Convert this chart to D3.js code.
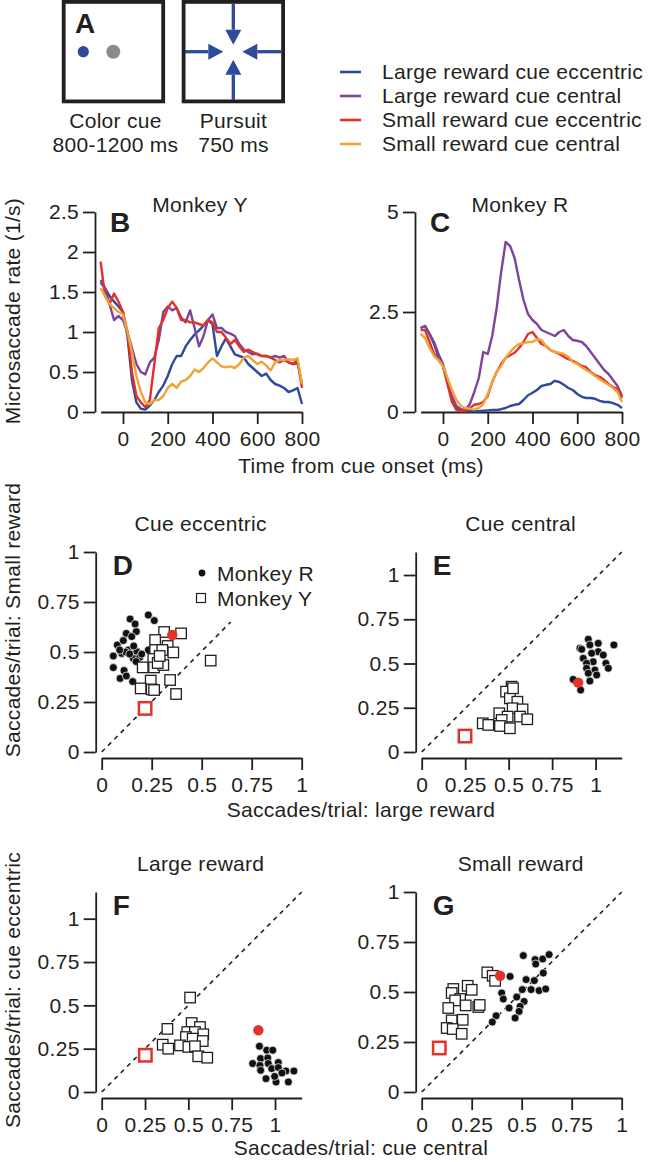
<!DOCTYPE html>
<html><head><meta charset="utf-8">
<script src="https://cdn.jsdelivr.net/npm/d3@7"></script>
<style>
body{margin:0;background:#fff;}
text{font-family:"Liberation Sans",Arial,Helvetica,sans-serif;fill:#231f20;}
</style></head><body>
<svg id="fig" width="650" height="1162"></svg>
<script>
// ---------------- DATA ----------------
const timeMs = [-100,-80,-60,-40,-20,0,20,40,60,80,100,120,140,160,180,200,220,240,260,280,300,320,340,360,380,400,420,440,460,480,500,520,540,560,580,600,620,640,660,680,700,720,740,760,780,800];

// Monkey Y (panel B)
const yLargeEcc = [1.62,1.55,1.45,1.38,1.32,1.25,0.95,0.4,0.12,0.04,0.03,0.08,0.15,0.25,0.33,0.45,0.6,0.7,0.7,0.82,0.9,0.97,1.02,1.08,1.15,1.1,0.7,0.82,0.92,0.82,0.72,0.7,0.68,0.6,0.55,0.5,0.45,0.48,0.4,0.35,0.33,0.3,0.25,0.27,0.3,0.1];
const yLargeCen = [1.65,1.55,1.35,1.15,1.2,1.15,1.0,0.8,0.6,0.5,0.47,0.62,0.68,0.9,1.25,1.32,1.27,1.3,1.18,1.12,1.27,1.05,0.82,0.95,1.15,1.22,1.05,1.05,1.0,0.98,0.95,0.85,0.78,0.75,0.72,0.73,0.7,0.7,0.68,0.7,0.68,0.7,0.62,0.6,0.62,0.35];
const ySmallEcc = [1.88,1.45,1.35,1.48,1.38,1.25,1.0,0.5,0.2,0.12,0.06,0.15,0.6,1.05,1.15,1.3,1.38,1.3,1.15,1.15,1.12,1.12,1.1,1.08,1.15,1.12,1.0,1.0,0.93,0.85,0.9,0.82,0.75,0.78,0.75,0.72,0.7,0.7,0.68,0.65,0.62,0.65,0.62,0.6,0.65,0.3];
const ySmallCen = [1.55,1.45,1.35,1.3,1.25,1.22,1.0,0.75,0.45,0.25,0.12,0.1,0.15,0.15,0.2,0.3,0.35,0.3,0.38,0.4,0.45,0.53,0.5,0.55,0.62,0.67,0.62,0.57,0.56,0.57,0.55,0.6,0.68,0.7,0.65,0.6,0.63,0.58,0.52,0.62,0.65,0.65,0.66,0.65,0.67,0.35];

// Monkey R (panel C)
const rLargeEcc = [2.1,2.15,1.95,1.7,1.35,1.15,0.75,0.35,0.1,0.03,0.02,0.02,0.02,0.02,0.03,0.04,0.05,0.05,0.07,0.1,0.15,0.18,0.2,0.3,0.42,0.48,0.55,0.65,0.68,0.7,0.78,0.75,0.68,0.6,0.55,0.45,0.38,0.35,0.35,0.33,0.28,0.25,0.25,0.22,0.18,0.1];
const rLargeCen = [2.1,2.15,1.95,1.75,1.45,1.2,0.8,0.4,0.15,0.07,0.05,0.2,0.5,0.85,1.5,1.45,1.9,2.6,3.5,4.25,4.15,3.85,3.3,2.8,2.45,2.3,2.2,2.05,2.0,1.95,1.9,2.0,2.05,1.9,1.8,1.78,1.75,1.65,1.5,1.35,1.2,1.05,0.95,0.8,0.65,0.4];
const rSmallEcc = [2.05,2.05,1.75,1.45,1.3,1.15,0.7,0.25,0.05,0.02,0.03,0.1,0.18,0.2,0.25,0.4,0.75,1.0,1.2,1.35,1.42,1.48,1.6,1.75,1.95,2.0,1.85,1.7,1.65,1.55,1.5,1.45,1.38,1.32,1.28,1.22,1.15,1.12,1.0,0.92,0.88,0.8,0.7,0.62,0.58,0.35];
const rSmallCen = [1.95,1.85,1.6,1.4,1.3,1.15,0.85,0.55,0.3,0.15,0.1,0.08,0.06,0.1,0.2,0.45,0.75,1.0,1.15,1.35,1.5,1.62,1.7,1.72,1.75,1.75,1.82,1.8,1.65,1.55,1.5,1.48,1.45,1.38,1.25,1.2,1.12,1.05,0.98,0.9,0.82,0.75,0.68,0.6,0.5,0.25];

const seriesNames = ["Large reward cue eccentric","Large reward cue central","Small reward cue eccentric","Small reward cue central"];
const seriesColors = ["#2d4a9b","#7d449c","#e0312a","#f0a336"];

const rateTicksY = [0,0.5,1,1.5,2,2.5];
const rateTicksR = [0,2.5,5];
const timeTicks = [0,200,400,600,800];
const fracTicks = [0,0.25,0.5,0.75,1];

// Panel D: cue eccentric, x = large reward, y = small reward
const dMonkeyR = [[0.142,0.665],[0.233,0.685],[0.263,0.657],[0.167,0.64],[0.123,0.593],[0.173,0.602],[0.15,0.577],[0.078,0.535],[0.108,0.557],[0.058,0.48],[0.1,0.493],[0.133,0.51],[0.175,0.502],[0.233,0.51],[0.158,0.468],[0.19,0.473],[0.172,0.452],[0.058,0.422],[0.112,0.407],[0.092,0.368],[0.123,0.38],[0.155,0.352],[0.12,0.5],[0.14,0.49],[0.2,0.49],[0.09,0.51],[0.16,0.53]];
const dMonkeyY = [[0.312,0.6],[0.397,0.593],[0.267,0.56],[0.33,0.53],[0.267,0.51],[0.303,0.51],[0.358,0.498],[0.258,0.465],[0.205,0.423],[0.262,0.423],[0.308,0.435],[0.28,0.445],[0.545,0.457],[0.245,0.357],[0.342,0.36],[0.195,0.318],[0.25,0.313],[0.262,0.31],[0.372,0.29],[0.29,0.48]];
const dExampleR = [0.353,0.585];
const dExampleY = [0.217,0.218];

// Panel E: cue central, x = large reward, y = small reward
const eMonkeyR = [[0.958,0.637],[1.015,0.614],[1.105,0.605],[0.91,0.586],[0.967,0.605],[1.015,0.567],[0.977,0.558],[0.929,0.529],[1.044,0.548],[0.986,0.51],[0.948,0.501],[1.059,0.501],[1.073,0.473],[0.948,0.473],[0.996,0.463],[0.958,0.445],[1.006,0.435],[0.967,0.401],[0.871,0.41],[0.914,0.35],[0.92,0.58]];
const eMonkeyY = [[0.517,0.369],[0.485,0.341],[0.507,0.303],[0.55,0.284],[0.523,0.247],[0.58,0.241],[0.446,0.219],[0.494,0.2],[0.565,0.2],[0.607,0.185],[0.46,0.181],[0.351,0.162],[0.383,0.153],[0.45,0.147],[0.507,0.134],[0.525,0.36]];
const eExampleR = [0.9,0.392];
const eExampleY = [0.249,0.09];

// Panel F: large reward, x = cue central, y = cue eccentric
const fMonkeyY = [[0.51,0.545],[0.379,0.364],[0.519,0.398],[0.567,0.375],[0.494,0.346],[0.538,0.346],[0.586,0.333],[0.486,0.317],[0.525,0.308],[0.583,0.294],[0.352,0.273],[0.452,0.269],[0.5,0.26],[0.538,0.264],[0.384,0.25],[0.557,0.206],[0.609,0.198]];
const fMonkeyR = [[0.91,0.264],[0.952,0.241],[0.987,0.241],[0.917,0.193],[0.958,0.196],[0.871,0.164],[0.913,0.154],[0.961,0.164],[1.019,0.17],[0.917,0.125],[0.981,0.135],[1.019,0.141],[1.063,0.121],[1.109,0.121],[0.948,0.077],[1.006,0.058],[1.077,0.058],[0.998,0.09],[1.04,0.11]];
const fExampleR = [0.904,0.356];
const fExampleY = [0.252,0.212];

// Panel G: small reward, x = cue central, y = cue eccentric
const gMonkeyR = [[0.508,0.682],[0.567,0.662],[0.605,0.665],[0.637,0.687],[0.442,0.578],[0.608,0.595],[0.522,0.562],[0.563,0.557],[0.503,0.512],[0.547,0.512],[0.587,0.507],[0.62,0.515],[0.4,0.495],[0.408,0.465],[0.475,0.475],[0.512,0.453],[0.437,0.42],[0.492,0.428],[0.487,0.403],[0.372,0.381],[0.467,0.37],[0.353,0.35],[0.57,0.64]];
const gMonkeyY = [[0.328,0.598],[0.355,0.581],[0.367,0.556],[0.23,0.531],[0.25,0.511],[0.158,0.515],[0.15,0.495],[0.192,0.465],[0.167,0.458],[0.22,0.433],[0.133,0.42],[0.283,0.425],[0.29,0.435],[0.15,0.358],[0.205,0.361],[0.125,0.32],[0.155,0.315],[0.2,0.291]];
const gExampleR = [0.392,0.581];
const gExampleY = [0.088,0.22];

// ---------------- DRAW ----------------
const ink = "#231f20";
const FS = 21, LS = "0.3px";
const FONT = "Liberation Sans, Arial, Helvetica, sans-serif";
const svg = d3.select("#fig");
svg.append("rect").attr("width",650).attr("height",1162).attr("fill","#fff");

function txt(x,y,s,opts={}){
  const t = svg.append("text").attr("x",x).attr("y",y).text(s)
    .attr("font-size",opts.size||FS).attr("text-anchor",opts.anchor||"start")
    .style("letter-spacing",opts.ls!==undefined?opts.ls:LS);
  if(opts.bold) t.attr("font-weight","bold");
  if(opts.rotate) t.attr("transform",`rotate(-90,${x},${y})`);
  if(opts.dom) t.attr("dominant-baseline",opts.dom);
  return t;
}
function styleAxis(g){
  g.attr("font-size",null).attr("font-family",null);
  g.selectAll("path.domain").attr("stroke",ink).attr("stroke-width",1.8);
  g.selectAll(".tick line").attr("stroke",ink).attr("stroke-width",1.8);
  g.selectAll(".tick text").attr("font-size",FS).attr("font-family",FONT).attr("fill",ink).style("letter-spacing",LS);
}
const fmt = d => String(d);

// ---- Panel A ----
svg.append("rect").attr("x",63.7).attr("y",1.9).attr("width",99.5).attr("height",99.5)
  .attr("fill","none").attr("stroke",ink).attr("stroke-width",3.8);
svg.append("rect").attr("x",183.6).attr("y",1.9).attr("width",99.5).attr("height",99.5)
  .attr("fill","none").attr("stroke",ink).attr("stroke-width",3.8);
txt(75,33,"A",{size:28,bold:true,ls:"0px"});
svg.append("circle").attr("cx",83.3).attr("cy",51.7).attr("r",5.6).attr("fill","#2d4a9b");
svg.append("circle").attr("cx",113.3).attr("cy",51.7).attr("r",7).attr("fill","#8a8a8a");
const arrowCol = "#2d4a9b";
const cx0 = 233.3, cy0 = 51.7;
// arrows: [lineStartX, lineStartY, tipX, tipY]
const arrows = [[185,cy0,cx0-10,cy0],[282,cy0,cx0+9,cy0],[cx0,4,cx0,cy0-7],[cx0,100,cx0,cy0+8]];
arrows.forEach(a=>{
  const [x1,y1,x2,y2]=a;
  const dx=x2-x1, dy=y2-y1, L=Math.hypot(dx,dy), ux=dx/L, uy=dy/L;
  const hl=15, hw=8;
  const bx=x2-ux*hl, by=y2-uy*hl;
  svg.append("line").attr("x1",x1).attr("y1",y1).attr("x2",bx).attr("y2",by)
    .attr("stroke",arrowCol).attr("stroke-width",3.3);
  svg.append("path").attr("d",`M${x2},${y2}L${bx-uy*hw},${by+ux*hw}L${bx+uy*hw},${by-ux*hw}Z`).attr("fill",arrowCol);
});
txt(115.5,128,"Color cue",{anchor:"middle"});
txt(115.5,152,"800-1200 ms",{anchor:"middle"});
txt(233.5,128,"Pursuit",{anchor:"middle"});
txt(233.5,152,"750 ms",{anchor:"middle"});

// legend
seriesNames.forEach((n,i)=>{
  const y = 72 + i*24;
  svg.append("line").attr("x1",340).attr("x2",361).attr("y1",y).attr("y2",y)
    .attr("stroke",seriesColors[i]).attr("stroke-width",2.6);
  txt(382,y+7,n);
});

// ---- Panels B, C ----
function linePanel(opts){
  const x = d3.scaleLinear().domain([-100,800]).range([opts.x0+5.6, opts.x0+207]);
  const y = d3.scaleLinear().domain([0,opts.ymax]).range([412,212]);
  const gy = svg.append("g").attr("transform",`translate(${opts.x0},0)`)
    .call(d3.axisLeft(y).tickValues(opts.yticks).tickFormat(fmt).tickSize(12).tickSizeOuter(0).tickPadding(4));
  styleAxis(gy);
  const gx = svg.append("g").attr("transform",`translate(0,412)`)
    .call(d3.axisBottom(x).tickValues(timeTicks).tickFormat(fmt).tickSize(12).tickSizeOuter(0).tickPadding(7));
  styleAxis(gx);
  const line = d3.line().x((d,i)=>x(timeMs[i])).y(d=>y(d));
  opts.series.forEach((s,i)=>{
    svg.append("path").datum(s).attr("d",line).attr("fill","none")
      .attr("stroke",opts.colors[i]).attr("stroke-width",2.4).attr("stroke-linejoin","round");
  });
  txt(opts.x0+15,232,opts.letter,{size:28,bold:true,ls:"0px"});
  txt(opts.x0+105,212,opts.title,{anchor:"middle"});
}
linePanel({x0:95,ymax:2.5,yticks:rateTicksY,letter:"B",title:"Monkey Y",
  series:[yLargeEcc,yLargeCen,ySmallEcc,ySmallCen],colors:seriesColors});
linePanel({x0:415,ymax:5,yticks:rateTicksR,letter:"C",title:"Monkey R",
  series:[rLargeEcc,rLargeCen,rSmallEcc,rSmallCen],colors:seriesColors});
txt(12,311,"Microsaccade rate (1/s)",{anchor:"middle",rotate:true,dom:"central"});
txt(361,473,"Time from cue onset (ms)",{anchor:"middle"});

// ---- Scatter panels ----
function scatterPanel(o){
  const x = d3.scaleLinear().domain([0,o.xmax]).range([o.x0+6,o.x0+206]);
  const y = d3.scaleLinear().domain([0,o.ymax]).range([o.y0,o.y0-200]);
  const gy = svg.append("g").attr("transform",`translate(${o.x0},0)`)
    .call(d3.axisLeft(y).tickValues(fracTicks).tickFormat(fmt).tickSize(12).tickSizeOuter(0).tickPadding(4));
  styleAxis(gy);
  const gx = svg.append("g").attr("transform",`translate(0,${o.y0+6})`)
    .call(d3.axisBottom(x).tickValues(fracTicks).tickFormat(fmt).tickSize(12).tickSizeOuter(0).tickPadding(7));
  styleAxis(gx);
  const dmax = o.diag;
  svg.append("line").attr("x1",x(0)).attr("y1",y(0)).attr("x2",x(dmax[0])).attr("y2",y(dmax[1]))
    .attr("stroke",ink).attr("stroke-width",1.6).attr("stroke-dasharray","4.5,4.5");
  svg.append("g").selectAll("circle").data(o.R).join("circle")
    .attr("cx",d=>x(d[0])).attr("cy",d=>y(d[1])).attr("r",4)
    .attr("fill","#111").attr("stroke","#fff").attr("stroke-width",0.7);
  const s=10.5;
  svg.append("g").selectAll("rect").data(o.Y).join("rect")
    .attr("x",d=>x(d[0])-s/2).attr("y",d=>y(d[1])-s/2).attr("width",s).attr("height",s)
    .attr("fill","#fff").attr("stroke",ink).attr("stroke-width",1.3);
  svg.append("circle").attr("cx",x(o.exR[0])).attr("cy",y(o.exR[1])).attr("r",5.2)
    .attr("fill","#e2332b");
  svg.append("rect").attr("x",x(o.exY[0])-6.2).attr("y",y(o.exY[1])-6.2).attr("width",12.4).attr("height",12.4)
    .attr("fill","#fff").attr("stroke","#e2332b").attr("stroke-width",2.5);
  txt(o.x0+17,o.y0-177,o.letter,{size:28,bold:true,ls:"0px"});
  txt(o.x0+105,o.y0-221,o.title,{anchor:"middle"});
}
scatterPanel({x0:95.7,y0:752,xmax:1,ymax:1,diag:[0.645,0.65],R:dMonkeyR,Y:dMonkeyY,exR:dExampleR,exY:dExampleY,letter:"D",title:"Cue eccentric"});
scatterPanel({x0:415.7,y0:752,xmax:1.15,ymax:1.13,diag:[1.15,1.13],R:eMonkeyR,Y:eMonkeyY,exR:eExampleR,exY:eExampleY,letter:"E",title:"Cue central"});
scatterPanel({x0:95.7,y0:1092,xmax:1.154,ymax:1.154,diag:[1.154,1.154],R:fMonkeyR,Y:fMonkeyY,exR:fExampleR,exY:fExampleY,letter:"F",title:"Large reward"});
scatterPanel({x0:415.7,y0:1092,xmax:1,ymax:1,diag:[1,1],R:gMonkeyR,Y:gMonkeyY,exR:gExampleR,exY:gExampleY,letter:"G",title:"Small reward"});

// D legend
svg.append("circle").attr("cx",202).attr("cy",573).attr("r",3.4).attr("fill","#111");
svg.append("rect").attr("x",196.5).attr("y",593.5).attr("width",9).attr("height",9).attr("fill","#fff").attr("stroke",ink).attr("stroke-width",1.2);
txt(217,580.5,"Monkey R");
txt(217,605.5,"Monkey Y");

txt(12,620,"Saccades/trial: Small reward",{anchor:"middle",rotate:true,dom:"central"});
txt(361,817,"Saccades/trial: large reward",{anchor:"middle"});
txt(12,990,"Saccades/trial: cue eccentric",{anchor:"middle",rotate:true,dom:"central"});
txt(361,1155,"Saccades/trial: cue central",{anchor:"middle"});
</script>
</body></html>
